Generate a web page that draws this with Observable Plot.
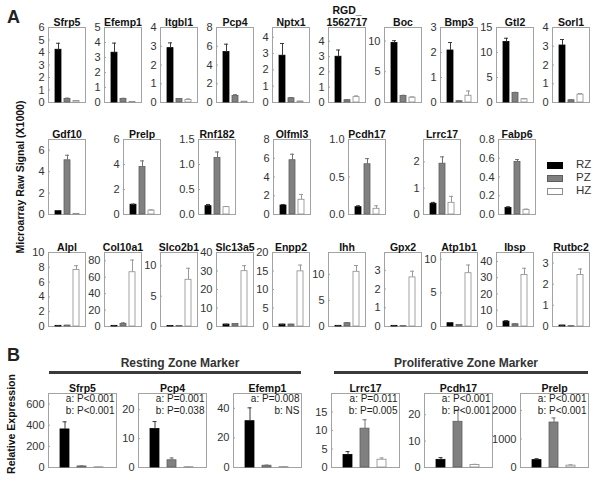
<!DOCTYPE html>
<html><head><meta charset="utf-8">
<script src="https://cdn.jsdelivr.net/npm/d3@7"></script>
<script src="https://cdn.jsdelivr.net/npm/@observablehq/plot@0.6"></script>
<style>
body{margin:0;background:#fff;}
#fig{position:relative;width:601px;height:483px;font-family:"Liberation Sans",Arial,sans-serif;overflow:hidden;background:#fff;}
#fig svg{position:absolute;}
.lbl{position:absolute;white-space:nowrap;color:#222;line-height:1;}
</style></head><body><div id="fig"></div>
<script>
// ---------- data ----------
const groups = ["RZ", "PZ", "HZ"];

// Panel A, row 1
const genes1 = ["Sfrp5","Efemp1","Itgbl1","Pcp4","Nptx1","RGD_\n1562717","Boc","Bmp3","Gtl2","Sorl1"];
const means1 = [[4.22,0.29,0.12],[3.32,0.24,0.04],[2.90,0.19,0.14],[5.38,0.70,0.09],[2.87,0.26,0.06],
                [2.99,0.15,0.35],[9.67,1.07,0.80],[2.08,0.05,0.27],[12.1,1.9,0.66],[3.04,0.12,0.42]];
const errs1  = [[0.52,0.06,0.02],[0.64,0.04,0.01],[0.28,0.02,0.05],[0.84,0.13,0.01],[0.75,0.04,0.01],
                [0.44,0.02,0.08],[0.38,0.1,0.1],[0.32,0.01,0.19],[0.75,0.13,0.07],[0.32,0.02,0.06]];
const ymax1  = [6,5,4,8,4.6,4.9,12.2,3,15,4];
const ticks1 = [["0","1","2","3","4","5","6"],["0","1","2","3","4","5"],["0","1","2","3","4"],["0","2","4","6","8"],
                ["0","1","2","3","4"],["0","1","2","3","4"],["0","5","10"],["0","1","2","3"],["0","5","10","15"],["0","1","2","3","4"]];

// Panel A, row 2
const genes2 = ["Gdf10","Prelp","Rnf182","Olfml3","Pcdh17","Lrrc17","Fabp6"];
const means2 = [[0.31,5.06,0.06],[0.78,3.8,0.32],[0.167,1.13,0.147],[0.96,5.79,1.57],[0.098,0.67,0.076],[0.41,1.93,0.445],[0.071,0.56,0.05]];
const errs2  = [[0.06,0.47,0.01],[0.05,0.49,0.05],[0.033,0.12,0.013],[0.11,0.64,0.57],[0.018,0.075,0.04],[0.05,0.26,0.245],[0.011,0.026,0.007]];
const ymax2  = [7,6,1.5,8,1.0,2.85,0.8];
const ticks2 = [["0","2","4","6"],["0","2","4","6"],["0.0","0.5","1.0","1.5"],["0","2","4","6","8"],["0.0","0.5","1.0"],["0","1","2"],["0.0","0.2","0.4","0.6","0.8"]];

// Panel A, row 3
const genes3 = ["Alpl","Col10a1","Slco2b1","Slc13a5","Enpp2","Ihh","Gpx2","Atp1b1","Ibsp","Rutbc2"];
const means3 = [[0.09,0.13,7.64],[0.8,3.2,66],[0.1,0.1,7.7],[1.07,1.4,29.9],[0.53,0.53,14.9],
                [0.13,0.63,10.5],[0.035,0.02,2.62],[0.49,0.24,7.92],[3.0,1.4,31.7],[0.047,0.016,2.44]];
const errs3  = [[0.01,0.01,0.58],[0.1,1.2,14.8],[0.01,0.01,1.9],[0.1,0.1,3.0],[0.05,0.05,1.7],
                [0.02,0.13,1.2],[0.005,0.005,0.33],[0.1,0.03,1.22],[0.6,0.2,4.1],[0.005,0.004,0.28]];
const ymax3  = [10,90,12.2,40,20,14.2,3.95,11,45.5,3.5];
const ticks3 = [["0","2","4","6","8","10"],["0","20","40","60","80"],["0","5","10"],["0","10","20","30","40"],["0","5","10","15","20"],
                ["0","5","10"],["0","1","2","3"],["0","5","10"],["0","10","20","30","40"],["0","1","2","3"]];

// Panel B
const genesB = ["Sfrp5","Pcp4","Efemp1","Lrrc17","Pcdh17","Prelp"];
const meansB = [[360,10,2],[13.3,2.5,0.1],[31.3,1.2,0.25],[3.4,10.5,2.1],[2.9,17.3,0.95],[260,1580,65]];
const errsB  = [[72,5,1],[2.6,0.8,0.05],[9,0.4,0.1],[0.9,2.4,0.5],[0.85,4.4,0.25],[50,160,30]];
const ymaxB  = [700,25.6,50,20,28,2600];
const ticksB = [["0","200","400","600"],["0","10","20"],["0","20","40"],["0","5","10","15"],["0","10","20"],["0","1000","2000"]];
const pvalsB = [["a: P<0.001","b: P<0.001"],["a: P=0.001","b: P=0.038"],["a: P=0.008","b: NS"],
                ["a: P=0.011","b: P=0.005"],["a: P<0.001","b: P<0.001"],["a: P<0.001","b: P<0.001"]];
const sectionsB = ["Resting Zone Marker","Proliferative Zone Marker"];
const yTitleA = "Microarray Raw Signal (X1000)";
const yTitleB = "Relative Expression";

// ---------- styles ----------
const fills   = {RZ:"#000000", PZ:"#808080", HZ:"#ffffff"};
const strokes = {RZ:"#000000", PZ:"#5e5e5e", HZ:"#8c8c8c"};
const errCol  = {RZ:"#3a3a3a", PZ:"#707070", HZ:"#999999"};
const FONT = "'Liberation Sans', Arial, sans-serif";
const fig = document.getElementById("fig");

function panel(opt) {
  const {gene, means, errs, ymax, ticks, left, top, w, h, pi, po, cap, ptext} = opt;
  const data = groups.map((g, i) => ({g, v: means[i], e: errs[i]}));
  const mL = 34, mR = 3, mT = 28, mB = 3;
  const tnum = ticks.map(Number);
  const lab = new Map(ticks.map(t => [Number(t), t]));
  const marks = [
    Plot.frame({stroke: "#a3a3a3"}),
    Plot.axisY({ticks: tnum, tickFormat: d => lab.get(d), tickSize: 2, dx: 2, tickPadding: 4,
                stroke: "#a3a3a3", fill: "#333", fontSize: 11, label: null}),
    Plot.barY(data, {x: "g", y: "v", fill: d => fills[d.g], stroke: d => strokes[d.g], strokeWidth: 0.8}),
    Plot.ruleX(data, {x: "g", y1: "v", y2: d => d.v + d.e, stroke: d => errCol[d.g], strokeWidth: 1}),
    Plot.tickY(data, {x: "g", y: d => d.v + d.e, stroke: d => errCol[d.g], strokeWidth: 1, insetLeft: cap, insetRight: cap}),
    Plot.text([gene], {text: d => d, frameAnchor: "top", lineAnchor: "bottom", dy: -1.5,
                       fontWeight: "bold", fontSize: 10.5, fill: "#111", lineHeight: 1.1})
  ];
  if (ptext) marks.push(Plot.text([ptext.join("\n")], {text: d => d, frameAnchor: "top-right", textAnchor: "end",
                       lineAnchor: "top", dx: -2, dy: 1, fontSize: 10, lineHeight: 1.12, fill: "#222"}));
  const svg = Plot.plot({
    width: w + mL + mR, height: h + mT + mB,
    marginLeft: mL, marginRight: mR, marginTop: mT, marginBottom: mB,
    style: {background: "transparent", overflow: "visible", fontFamily: FONT},
    x: {domain: groups, axis: null, paddingInner: pi, paddingOuter: po},
    y: {domain: [0, ymax], axis: null, label: null},
    color: {type: "identity"},
    marks
  });
  svg.style.left = (left - mL) + "px";
  svg.style.top = (top - mT) + "px";
  fig.appendChild(svg);
}

function row(genes, means, errs, ymax, ticks, lefts, top, h, w, pi, po, cap, pv) {
  genes.forEach((g, i) => panel({gene: g, means: means[i], errs: errs[i], ymax: ymax[i], ticks: ticks[i],
    left: lefts[i], top, w, h, pi, po, cap, ptext: pv ? pv[i] : null}));
}

const lefts1 = genes1.map((_, i) => 48 + 56 * i);
const lefts2 = genes2.map((_, i) => 48 + 75 * i);
const lefts3 = genes3.map((_, i) => 48 + 56 * i);
const leftsB = [48, 138, 233, 331, 424, 520];

row(genes1, means1, errs1, ymax1, ticks1, lefts1, 27, 75, 37, 0.37, 0.55, 1, null);
row(genes2, means2, errs2, ymax2, ticks2, lefts2, 139, 75, 37, 0.37, 0.55, 1, null);
row(genes3, means3, errs3, ymax3, ticks3, lefts3, 252, 74, 37, 0.37, 0.55, 1, null);
row(genesB, meansB, errsB, ymaxB, ticksB, leftsB, 393, 74, 68, 0.45, 0.67, 2.5, pvalsB);

// ---------- text & decorations ----------
function label(text, css) {
  const d = document.createElement("div");
  d.className = "lbl"; d.textContent = text;
  Object.assign(d.style, css);
  fig.appendChild(d);
  return d;
}
label("A", {left: "7px", top: "8px", fontSize: "18px", fontWeight: "bold", color: "#222"});
label("B", {left: "7px", top: "346px", fontSize: "18px", fontWeight: "bold", color: "#222"});
label(yTitleA, {left: "20px", top: "177px", fontSize: "10.5px", fontWeight: "bold",
  transform: "translate(-50%,-50%) rotate(-90deg)", color: "#111"});
label(yTitleB, {left: "11px", top: "424px", fontSize: "10.5px", fontWeight: "bold",
  transform: "translate(-50%,-50%) rotate(-90deg)", color: "#111"});

// section headers for B
const secSpan = [[49, 301], [334, 588]];
sectionsB.forEach((s, i) => {
  const [a, b] = secSpan[i];
  label(s, {left: ((a + b) / 2 + 5) + "px", top: "363px", fontSize: "12px", fontWeight: "bold", color: "#333",
    transform: "translate(-50%,-50%)"});
  const line = document.createElement("div");
  Object.assign(line.style, {position: "absolute", left: a + "px", top: "371px", width: (b - a) + "px",
    height: "3px", background: "#3a3a3a"});
  fig.appendChild(line);
});

// legend
const legY = [165, 178, 191];
groups.forEach((g, i) => {
  const box = document.createElement("div");
  Object.assign(box.style, {position: "absolute", left: "547px", top: (legY[i] - 3) + "px", width: "14px", height: "5px",
    background: fills[g], border: "1px solid " + strokes[g]});
  fig.appendChild(box);
  label(g, {left: "576px", top: legY[i] + "px", fontSize: "11.5px", color: "#333", transform: "translateY(-50%)"});
});
</script></body></html>
